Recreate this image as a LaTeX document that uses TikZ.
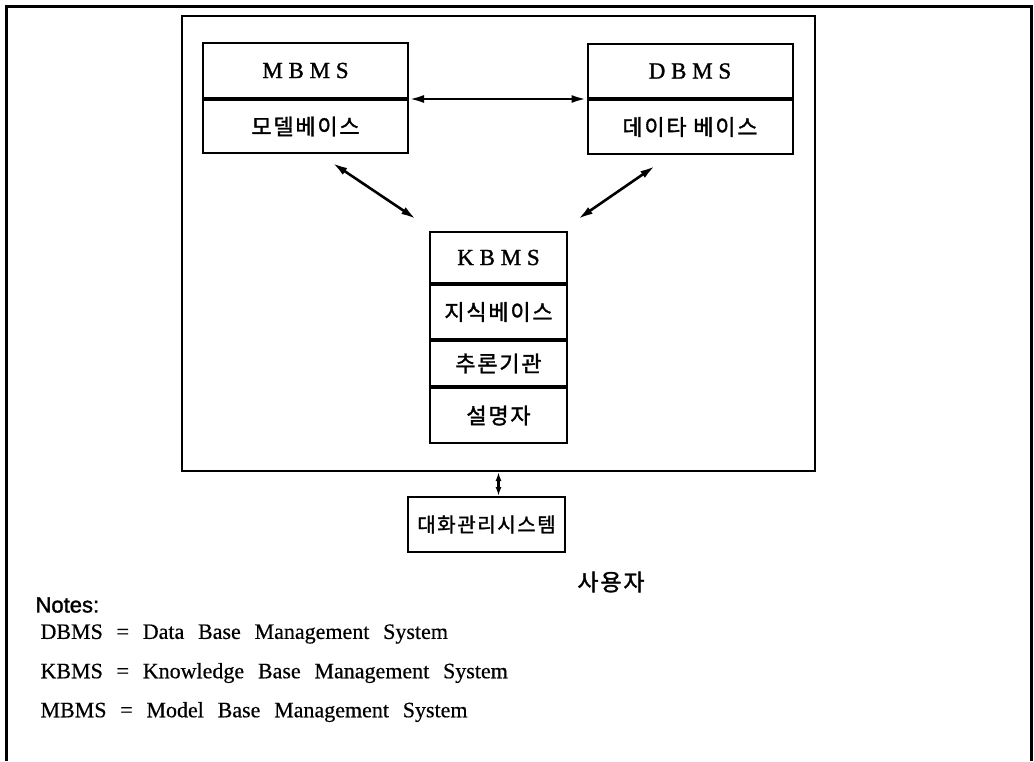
\documentclass[tikz,border=0pt]{standalone}
\usepackage{fontspec}
\setmainfont{Liberation Serif}
\newfontfamily\headtext{Liberation Serif}[FakeBold=1.2]
\newfontfamily\notetext{Liberation Serif}[WordSpace=2.5,FakeBold=0.5]
\newfontfamily\notehead{Liberation Sans}[FakeBold=1.5]
\newfontfamily\hangul{Noto Sans CJK KR}[LetterSpace=8,FakeBold=1.5]
\usetikzlibrary{arrows.meta,calc}

\begin{document}
\begin{tikzpicture}[x=1pt,y=-1pt,
  cell/.style={draw,line width=2pt,minimum width=205pt,inner sep=0pt},
  kcell/.style={draw,line width=2pt,minimum width=137pt,inner sep=0pt},
  head/.style={font=\headtext\fontsize{23}{23}\selectfont},
  kor/.style={font=\hangul\fontsize{22}{22}\selectfont},
  link/.style={{Latex[length=15pt,width=8pt]}-{Latex[length=15pt,width=8pt]},line width=2.6pt},
  note/.style={anchor=west,font=\notetext\fontsize{22}{22}\selectfont}]
\useasboundingbox (0,0) rectangle (1034,761);
% page frame, open at the bottom
\draw[line width=3pt] (6,761) -- (6,6) -- (1031,6) -- (1031,761);
% system frame
\node[draw,line width=2pt,minimum width=633pt,minimum height=455pt] (dss) at (498.5,243.5) {};
% model base and data base
\node[cell,head,minimum height=55pt] (mtop) at (305.5,70.5) {M B M S};
\node[cell,kor,minimum height=53pt,anchor=north] (mbot) at (mtop.south) {모델베이스};
\node[cell,head,minimum height=54pt] (dtop) at (690,71) {D B M S};
\node[cell,kor,minimum height=54pt,anchor=north] (dbot) at (dtop.south) {데이타 베이스};
% knowledge base stack
\node[kcell,head,minimum height=51pt] (ktop) at (498.5,257.5) {K B M S};
\node[kcell,kor,minimum height=54pt,anchor=north] (know) at (ktop.south) {지식베이스};
\node[kcell,kor,minimum height=45pt,anchor=north] (infer) at (know.south) {추론기관};
\node[kcell,kor,minimum height=55pt,anchor=north] (expl) at (infer.south) {설명자};
% dialogue part and user
\node[draw,line width=2pt,kor,minimum width=157pt,minimum height=55pt,font=\hangul\fontsize{20}{20}\selectfont] (talk) at (486.5,524.5) {대화관리시스템};
\node[font=\hangul\fontsize{23}{23}\selectfont] (user) at (611,582) {사용자};
% links
\draw[link] (mtop.south east) -- (dtop.south west);
\draw[link] ($(mbot.south)+(27,9)$) -- ($(ktop.north west)+(-13,-12)$);
\draw[link] ($(dbot.south)+(-35,11)$) -- ($(ktop.north east)+(10,-12)$);
\draw[{Latex[length=9pt,width=6pt]}-{Latex[length=9pt,width=6pt]},line width=2.4pt] (dss.south) -- (dss.south |- talk.north);
% notes
\node[anchor=west,font=\notehead\fontsize{22}{22}\selectfont] (notes) at (32,605) {Notes:};
\node[note] (dnote) at (37,634) {DBMS = Data Base Management System};
\node[note] (knote) at (37,673) {KBMS = Knowledge Base Management System};
\node[note] (mnote) at (37,712) {MBMS = Model Base Management System};
\end{tikzpicture}
\end{document}
